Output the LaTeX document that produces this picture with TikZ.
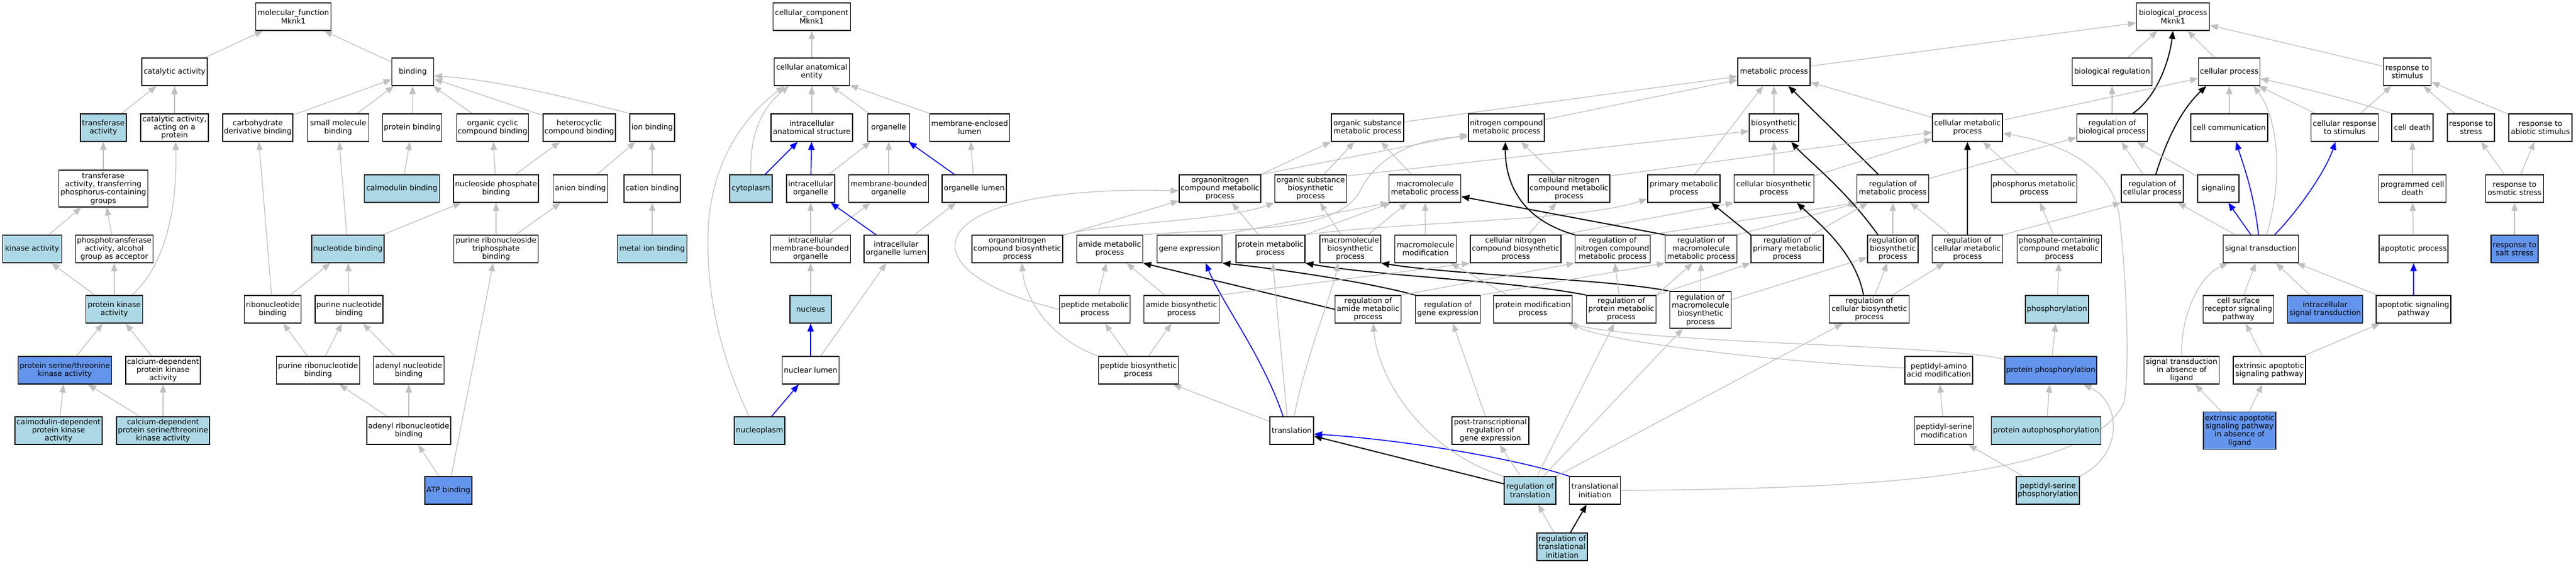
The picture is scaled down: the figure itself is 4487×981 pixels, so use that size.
\documentclass[tikz,border=0pt]{standalone}
\usepackage{fontspec}
\setmainfont{DejaVu Sans}
\usetikzlibrary{arrows.meta,backgrounds}
\definecolor{lb}{HTML}{ADD8E6}
\definecolor{cb}{HTML}{6495ED}
\definecolor{eg}{HTML}{C0C0C0}
\begin{document}
\begin{tikzpicture}[x=1pt,y=1pt,
  box/.style={draw=black,line width=1.4pt,fill=white,rectangle,inner xsep=2pt,inner ysep=1pt,minimum height=48pt,align=center,font=\fontsize{13pt}{14.3pt}\selectfont},
  tip/.style={-{Triangle[length=14pt,width=11pt]}},
  ge/.style={draw=eg,line width=1.3pt,tip},
  ke/.style={draw=black,line width=1.9pt,tip},
  be/.style={draw=blue,line width=1.6pt,tip}]
\useasboundingbox (0,0) rectangle (4487,-981);
% ---------------- molecular function ----------------
\node[box,minimum width=131pt] (mf) at (511,-29) {molecular\_function\\Mknk1};
\node[box,minimum width=114pt] (cat) at (304,-125) {catalytic activity};
\node[box,minimum width=73pt] (bind) at (719,-125) {binding};
\node[box,minimum width=80pt,fill=lb] (trans) at (180,-222) {transferase\\activity};
\node[box,minimum width=118pt] (caap) at (304,-222) {catalytic activity,\\acting on a\\protein};
\node[box,minimum width=122pt] (carb) at (449,-222) {carbohydrate\\derivative binding};
\node[box,minimum width=107pt] (smb) at (589,-222) {small molecule\\binding};
\node[box,minimum width=103pt] (protb) at (718,-222) {protein binding};
\node[box,minimum width=125pt] (occb) at (858,-222) {organic cyclic\\compound binding};
\node[box,minimum width=126pt] (hetb) at (1009,-222) {heterocyclic\\compound binding};
\node[box,minimum width=78pt] (ionb) at (1136,-222) {ion binding};
\node[box,minimum width=155pt,minimum height=64pt] (ttpg) at (180,-328) {transferase\\activity, transferring\\phosphorus-containing\\groups};
\node[box,minimum width=131pt,fill=lb] (calmb) at (700,-328) {calmodulin binding};
\node[box,minimum width=148pt] (nspb) at (864,-328) {nucleoside phosphate\\binding};
\node[box,minimum width=95pt] (anion) at (1011,-328) {anion binding};
\node[box,minimum width=98pt] (cation) at (1136,-328) {cation binding};
\node[box,minimum width=103pt,fill=lb] (kin) at (56,-433) {kinase activity};
\node[box,minimum width=135pt] (ptaa) at (199,-433) {phosphotransferase\\activity, alcohol\\group as acceptor};
\node[box,minimum width=126pt,fill=lb] (nucb) at (606,-433) {nucleotide binding};
\node[box,minimum width=147pt] (prtpb) at (864,-433) {purine ribonucleoside\\triphosphate\\binding};
\node[box,minimum width=121pt,fill=lb] (metal) at (1136,-433) {metal ion binding};
\node[box,minimum width=99pt,fill=lb] (pka) at (199,-538) {protein kinase\\activity};
\node[box,minimum width=99pt] (ribb) at (475,-538) {ribonucleotide\\binding};
\node[box,minimum width=118pt] (purnb) at (608,-538) {purine nucleotide\\binding};
\node[box,minimum width=163pt,fill=cb] (pstk) at (113,-644) {protein serine/threonine\\kinase activity};
\node[box,minimum width=130pt] (cdpk) at (284,-644) {calcium-dependent\\protein kinase\\activity};
\node[box,minimum width=145pt] (purrb) at (554,-644) {purine ribonucleotide\\binding};
\node[box,minimum width=123pt] (adnb) at (712,-644) {adenyl nucleotide\\binding};
\node[box,minimum width=152pt,fill=lb] (cmdpk) at (102,-749) {calmodulin-dependent\\protein kinase\\activity};
\node[box,minimum width=162pt,fill=lb] (cdpstk) at (284,-749) {calcium-dependent\\protein serine/threonine\\kinase activity};
\node[box,minimum width=146pt] (adrb) at (712,-749) {adenyl ribonucleotide\\binding};
\node[box,minimum width=82pt,fill=cb] (atp) at (781,-853) {ATP binding};
% ---------------- cellular component ----------------
\node[box,minimum width=135pt] (cc) at (1414,-29) {cellular\_component\\Mknk1};
\node[box,minimum width=131pt] (cae) at (1414,-125) {cellular anatomical\\entity};
\node[box,minimum width=142pt] (ias) at (1414,-222) {intracellular\\anatomical structure};
\node[box,minimum width=73pt] (org) at (1548,-222) {organelle};
\node[box,minimum width=139pt] (mel) at (1689,-222) {membrane-enclosed\\lumen};
\node[box,minimum width=74pt,fill=lb] (cyto) at (1308,-328) {cytoplasm};
\node[box,minimum width=84pt] (io) at (1412,-328) {intracellular\\organelle};
\node[box,minimum width=139pt] (mbo) at (1548,-328) {membrane-bounded\\organelle};
\node[box,minimum width=112pt] (ol) at (1697,-328) {organelle lumen};
\node[box,minimum width=139pt] (imbo) at (1412,-433) {intracellular\\membrane-bounded\\organelle};
\node[box,minimum width=112pt] (iol) at (1561,-433) {intracellular\\organelle lumen};
\node[box,minimum width=72pt,fill=lb] (nucl) at (1412,-538) {nucleus};
\node[box,minimum width=99pt] (nlum) at (1412,-644) {nuclear lumen};
\node[box,minimum width=88pt,fill=lb] (nplasm) at (1323,-749) {nucleoplasm};
% ---------------- biological process ----------------
\node[box,minimum width=127pt] (bp) at (3785,-29) {biological\_process\\Mknk1};
\node[box,minimum width=126pt] (mp) at (3090,-125) {metabolic process};
\node[box,minimum width=139pt] (breg) at (3679,-125) {biological regulation};
\node[box,minimum width=107pt] (cp) at (3883,-125) {cellular process};
\node[box,minimum width=83pt] (rts) at (4193,-125) {response to\\stimulus};
\node[box,minimum width=126pt] (osmp) at (2382,-222) {organic substance\\metabolic process};
\node[box,minimum width=132pt] (ncmp) at (2624,-222) {nitrogen compound\\metabolic process};
\node[box,minimum width=86pt] (biosp) at (3090,-222) {biosynthetic\\process};
\node[box,minimum width=122pt] (cmp) at (3427,-222) {cellular metabolic\\process};
\node[box,minimum width=123pt] (rbiolp) at (3679,-222) {regulation of\\biological process};
\node[box,minimum width=134pt] (ccom) at (3883,-222) {cell communication};
\node[box,minimum width=117pt] (crs) at (4084,-222) {cellular response\\to stimulus};
\node[box,minimum width=72pt] (cdeath) at (4202,-222) {cell death};
\node[box,minimum width=82pt] (rtstress) at (4304,-222) {response to\\stress};
\node[box,minimum width=110pt] (rtabio) at (4425,-222) {response to\\abiotic stimulus};
\node[box,minimum width=142pt] (oncmp) at (2125,-328) {organonitrogen\\compound metabolic\\process};
\node[box,minimum width=125pt] (osbp) at (2283,-328) {organic substance\\biosynthetic\\process};
\node[box,minimum width=125pt] (mmp) at (2482,-328) {macromolecule\\metabolic process};
\node[box,minimum width=142pt] (cncmp) at (2733,-328) {cellular nitrogen\\compound metabolic\\process};
\node[box,minimum width=126pt] (pmp) at (2933,-328) {primary metabolic\\process};
\node[box,minimum width=139pt] (cbp) at (3090,-328) {cellular biosynthetic\\process};
\node[box,minimum width=125pt] (rmp) at (3297,-328) {regulation of\\metabolic process};
\node[box,minimum width=149pt] (phmp) at (3543,-328) {phosphorus metabolic\\process};
\node[box,minimum width=108pt] (rcp) at (3749,-328) {regulation of\\cellular process};
\node[box,minimum width=72pt] (sig) at (3864,-328) {signaling};
\node[box,minimum width=117pt] (pcd) at (4202,-328) {programmed cell\\death};
\node[box,minimum width=101pt] (rtos) at (4380,-328) {response to\\osmotic stress};
\node[box,minimum width=158pt] (oncbp) at (1772,-433) {organonitrogen\\compound biosynthetic\\process};
\node[box,minimum width=115pt] (amp) at (1933,-433) {amide metabolic\\process};
\node[box,minimum width=113pt] (ge) at (2072,-433) {gene expression};
\node[box,minimum width=120pt] (protmp) at (2213,-433) {protein metabolic\\process};
\node[box,minimum width=106pt] (mbp) at (2352,-433) {macromolecule\\biosynthetic\\process};
\node[box,minimum width=107pt] (mm) at (2483,-433) {macromolecule\\modification};
\node[box,minimum width=158pt] (cncbp) at (2640,-433) {cellular nitrogen\\compound biosynthetic\\process};
\node[box,minimum width=130pt] (rncmp) at (2809,-433) {regulation of\\nitrogen compound\\metabolic process};
\node[box,minimum width=125pt] (rmmp) at (2963,-433) {regulation of\\macromolecule\\metabolic process};
\node[box,minimum width=126pt] (rpmp) at (3113,-433) {regulation of\\primary metabolic\\process};
\node[box,minimum width=88pt] (rbiosp) at (3297,-433) {regulation of\\biosynthetic\\process};
\node[box,minimum width=123pt] (rcmp) at (3427,-433) {regulation of\\cellular metabolic\\process};
\node[box,minimum width=147pt] (pccmp) at (3587,-433) {phosphate-containing\\compound metabolic\\process};
\node[box,minimum width=131pt] (st) at (3938,-433) {signal transduction};
\node[box,minimum width=120pt] (apop) at (4204,-433) {apoptotic process};
\node[box,minimum width=82pt,fill=cb] (rtsalt) at (4380,-433) {response to\\salt stress};
\node[box,minimum width=123pt] (pepmp) at (1907,-538) {peptide metabolic\\process};
\node[box,minimum width=131pt] (abp) at (2058,-538) {amide biosynthetic\\process};
\node[box,minimum width=115pt] (ramp) at (2383,-538) {regulation of\\amide metabolic\\process};
\node[box,minimum width=113pt] (rge) at (2522,-538) {regulation of\\gene expression};
\node[box,minimum width=137pt] (pmod) at (2670,-538) {protein modification\\process};
\node[box,minimum width=121pt] (rprotmp) at (2824,-538) {regulation of\\protein metabolic\\process};
\node[box,minimum width=107pt,minimum height=64pt] (rmbp) at (2962,-539) {regulation of\\macromolecule\\biosynthetic\\process};
\node[box,minimum width=139pt] (rcbp) at (3256,-538) {regulation of\\cellular biosynthetic\\process};
\node[box,minimum width=110pt,fill=lb] (phos) at (3583,-538) {phosphorylation};
\node[box,minimum width=123pt] (csrsp) at (3899,-538) {cell surface\\receptor signaling\\pathway};
\node[box,minimum width=131pt,fill=cb] (ist) at (4050,-538) {intracellular\\signal transduction};
\node[box,minimum width=130pt] (asp) at (4204,-538) {apoptotic signaling\\pathway};
\node[box,minimum width=139pt] (pepbp) at (1983,-644) {peptide biosynthetic\\process};
\node[box,minimum width=118pt] (paam) at (3377,-644) {peptidyl-amino\\acid modification};
\node[box,minimum width=160pt,fill=cb] (pphos) at (3572,-644) {protein phosphorylation};
\node[box,minimum width=131pt] (stia) at (3800,-644) {signal transduction\\in absence of\\ligand};
\node[box,minimum width=126pt] (easp) at (3953,-644) {extrinsic apoptotic\\signaling pathway};
\node[box,minimum width=76pt] (transl) at (2250,-749) {translation};
\node[box,minimum width=134pt] (ptrge) at (2596,-749) {post-transcriptional\\regulation of\\gene expression};
\node[box,minimum width=103pt] (psm) at (3386,-749) {peptidyl-serine\\modification};
\node[box,minimum width=191pt,fill=lb] (papho) at (3564,-749) {protein autophosphorylation};
\node[box,minimum width=126pt,minimum height=65pt,fill=cb] (easpl) at (3901,-749) {extrinsic apoptotic\\signaling pathway\\in absence of\\ligand};
\node[box,minimum width=90pt,fill=lb] (rt) at (2665,-853) {regulation of\\translation};
\node[box,minimum width=89pt] (ti) at (2778,-853) {translational\\initiation};
\node[box,minimum width=110pt,fill=lb] (psp) at (3567,-853) {peptidyl-serine\\phosphorylation};
\node[box,minimum width=88pt,fill=lb] (rti) at (2721,-951) {regulation of\\translational\\initiation};

\begin{pgfonlayer}{background}
\fill[white] (0,0) rectangle (4487,-981);
% MF edges
\draw[ge] (cat) -- (mf);
\draw[ge] (bind) -- (mf);
\draw[ge] (trans) -- (cat);
\draw[ge] (caap) -- (cat);
\draw[ge] (carb) -- (bind);
\draw[ge] (smb) -- (bind);
\draw[ge] (protb) -- (bind);
\draw[ge] (occb) -- (bind);
\draw[ge] (hetb) -- (bind);
\draw[ge] (ionb.north west) .. controls (1020,-178) and (880,-140) .. ([yshift=-7pt]bind.east);
\draw[ge] (ttpg) -- (trans);
\draw[ge] (calmb) -- (protb);
\draw[ge] (nspb) -- (occb);
\draw[ge] (nspb) -- (hetb);
\draw[ge] (anion) -- (ionb);
\draw[ge] (cation) -- (ionb);
\draw[ge] (kin) -- (ttpg);
\draw[ge] (ptaa) -- (ttpg);
\draw[ge] (nucb) -- (smb);
\draw[ge] (nucb) -- (nspb);
\draw[ge] (prtpb) -- (nspb);
\draw[ge] (prtpb) -- (anion);
\draw[ge] (metal) -- (cation);
\draw[ge] (pka) -- (kin);
\draw[ge] (pka) -- (ptaa);
\draw[ge] ([xshift=31pt]pka.north) .. controls (300,-450) and (308,-330) .. ([xshift=2pt]caap.south);
\draw[ge] (ribb) -- (carb);
\draw[ge] (ribb) -- (nucb);
\draw[ge] (purnb) -- (nucb);
\draw[ge] (pstk) -- (pka);
\draw[ge] (cdpk) -- (pka);
\draw[ge] (purrb) -- (ribb);
\draw[ge] (purrb) -- (purnb);
\draw[ge] (adnb) -- (purnb);
\draw[ge] (cmdpk) -- (pstk);
\draw[ge] (cdpstk) -- (pstk);
\draw[ge] (cdpstk) -- (cdpk);
\draw[ge] (adrb) -- (purrb);
\draw[ge] (adrb) -- (adnb);
\draw[ge] (atp) -- (adrb);
\draw[ge] (atp) -- (prtpb);
% CC edges
\draw[ge] (cae) -- (cc);
\draw[ge] (ias) -- (cae);
\draw[ge] (cyto.north) .. controls (1305,-230) and (1330,-185) .. ([xshift=-40pt]cae.south);
\draw[ge] ([xshift=-18pt]nplasm.north) .. controls (1255,-620) and (1233,-520) .. (1233,-420) .. controls (1233,-280) and (1300,-200) .. ([xshift=-48pt]cae.south);
\draw[ge] (org) -- (cae);
\draw[ge] (mel) -- (cae);
\draw[be] (cyto) -- (ias);
\draw[be] (io) -- (ias);
\draw[ge] (io) -- (org);
\draw[ge] (mbo) -- (org);
\draw[be] (ol) -- (org);
\draw[ge] (ol) -- (mel);
\draw[ge] (imbo) -- (io);
\draw[ge] (imbo) -- (mbo);
\draw[be] (iol) -- (io);
\draw[ge] (iol) -- (ol);
\draw[ge] (nucl) -- (imbo);
\draw[be] (nlum) -- (nucl);
\draw[ge] (nlum) -- (iol);
\draw[be] (nplasm) -- (nlum);
% BP upper
\draw[ge] ([yshift=10pt]mp.east) -- ([yshift=-11pt]bp.west);
\draw[ge] (breg) -- (bp);
\draw[ge] (cp) -- (bp);
\draw[ge] (rts) -- (bp);
\draw[ke] ([xshift=36pt]rbiolp.north) .. controls (3755,-170) and (3778,-110) .. (bp.south);
\draw[ge] ([yshift=10pt]osmp.east) -- ([yshift=-8pt]mp.west);
\draw[ge] ([yshift=14pt]ncmp.east) -- ([yshift=-14pt]mp.west);
\draw[ge] (biosp) -- (mp);
\draw[ge] (cmp) -- (mp);
\draw[ke] (rmp) -- (mp);
\draw[ge] (pmp) -- (mp);
\draw[ge] (cmp) -- (cp);
\draw[ge] (rbiolp) -- (breg);
\draw[ge] (ccom) -- (cp);
\draw[ge] (crs) -- (cp);
\draw[ge] (crs) -- (rts);
\draw[ge] (cdeath.north west) .. controls (4100,-175) and (4000,-150) .. ([yshift=-12pt]cp.east);
\draw[ge] (rtstress) -- (rts);
\draw[ge] (rtabio) -- (rts);
\draw[ke] ([xshift=6pt]rcp.north) .. controls (3775,-240) and (3800,-190) .. ([xshift=-40pt]cp.south);
\draw[ge] (rcp) -- (rbiolp);
\draw[ge] (sig) -- (rbiolp);
\draw[be] (st) -- (sig);
\draw[be] ([xshift=-4pt]st.north) .. controls (3925,-330) and (3905,-280) .. ([xshift=12pt]ccom.south);
\draw[be] ([xshift=24pt]st.north) .. controls (4000,-370) and (4050,-300) .. ([xshift=-16pt]crs.south);
\draw[ge] ([xshift=10pt]st.north) .. controls (3980,-300) and (3965,-200) .. ([xshift=42pt]cp.south);
\draw[ge] (st) -- (rcp);
\draw[ge] (pcd) -- (cdeath);
\draw[ge] (rtos) -- (rtstress);
\draw[ge] (rtos) -- (rtabio);
\draw[ge] (apop) -- (pcd);
\draw[ge] (rtsalt) -- (rtos);
\draw[be] (asp) -- (apop);
\draw[ge] (asp) -- (st);
\draw[ge] (ist) -- (st);
\draw[ge] (csrsp) -- (st);
\draw[ge] (stia.north) .. controls (3798,-550) and (3830,-480) .. ([xshift=-57pt]st.south);
\draw[ge] (easp) -- (csrsp);
\draw[ge] (easp) -- (asp);
\draw[ge] (easpl) -- (stia);
\draw[ge] (easpl) -- (easp);
% BP metabolic
\draw[ge] (oncmp.north east) -- (osmp.south west);
\draw[ge] (oncmp.north east) -- ([yshift=-12pt]ncmp.west);
\draw[ge] (osbp) -- (osmp);
\draw[ge] (mmp) -- (osmp);
\draw[ge] ([yshift=22pt]osbp.east) -- ([yshift=-6pt]biosp.west);
\draw[ge] (cncmp) -- (ncmp);
\draw[ge] ([yshift=22pt]cncmp.east) -- ([yshift=-8pt]cmp.west);
\draw[ge] (cbp) -- (biosp);
\draw[ge] (cbp) -- (cmp);
\draw[ge] (phmp) -- (cmp);
\draw[ge] (rmp) -- (rbiolp);
\draw[ge] (oncbp) -- (oncmp);
\draw[ge] (oncbp.north east) .. controls (1950,-385) and (2130,-385) .. (osbp.south west);
\draw[ge] (pepmp.west) .. controls (1560,-470) and (1600,-320) .. ([yshift=-4pt]oncmp.west);
\draw[ge] (amp.north east) .. controls (2150,-395) and (2330,-410) .. (2370,-330) .. controls (2400,-270) and (2470,-240) .. ([yshift=-16pt]ncmp.west);
\draw[ge] (ge.north east) -- (mmp.south west);
\draw[ge] (protmp) -- (oncmp);
\draw[ge] (protmp.north east) -- ([xshift=4pt]mmp.south west);
\draw[ge] (protmp.north east) .. controls (2450,-385) and (2750,-385) .. ([yshift=-18pt]pmp.west);
\draw[ge] (mbp) -- (osbp);
\draw[ge] (mbp) -- (mmp);
\draw[ge] (mm) -- (mmp);
\draw[ge] (cncbp) -- (cncmp);
\draw[ge] (cncbp.north east) -- (cbp.south west);
\draw[ke] (rncmp.north west) .. controls (2660,-385) and (2622,-330) .. ([xshift=-2pt]ncmp.south);
\draw[ge] (rncmp.north east) -- (rmp.south west);
\draw[ke] (rmmp.north west) -- ([yshift=-14pt]mmp.east);
\draw[ge] (rmmp.north east) -- ([xshift=4pt]rmp.south west);
\draw[ke] (ramp.west) -- (amp.south east);
\draw[ke] (rge.north west) .. controls (2400,-495) and (2250,-470) .. (ge.south east);
\draw[ke] (rprotmp.north west) .. controls (2650,-490) and (2400,-480) .. (protmp.south east);
\draw[ke] (rmbp.north west) .. controls (2800,-485) and (2550,-480) .. (mbp.south east);
\draw[ge] (ramp.north east) -- (rncmp.south west);
\draw[ge] (rge.north east) -- (rmmp.south west);
\draw[ge] (pmod) -- (mm);
\draw[ge] (rprotmp) -- (rncmp);
\draw[ge] (rprotmp.north east) -- ([xshift=-15pt]rmmp.south);
\draw[ge] (rprotmp.north east) -- (rpmp.south west);
\draw[ge] (rmbp) -- (rmmp);
\draw[ge] ([yshift=18pt]rmbp.east) -- ([yshift=-15pt]rbiosp.west);
\draw[ge] (abp) -- (amp);
\draw[ge] (abp.north east) -- (cncbp.south west);
\draw[ge] (pepmp) -- (amp);
\draw[ge] (pepbp) -- (pepmp);
\draw[ge] (pepbp) -- (abp);
\draw[ge] (pepbp.north west) .. controls (1830,-590) and (1785,-520) .. ([xshift=8pt]oncbp.south);
\draw[ge] ([yshift=16pt]transl.west) -- ([xshift=-10pt]pepbp.south east);
\draw[ge] ([xshift=-8pt]transl.north) -- ([xshift=4pt]protmp.south);
\draw[ge] ([xshift=4pt]transl.north) .. controls (2275,-620) and (2320,-510) .. ([xshift=-21pt]mbp.south);
\draw[be] ([xshift=-15pt]transl.north) .. controls (2200,-620) and (2130,-530) .. ([xshift=28pt]ge.south);
\draw[ke] (rt) -- (transl);
\draw[be] (ti.north west) .. controls (2650,-800) and (2450,-765) .. ([yshift=-6pt]transl.east);
\draw[ge] (rt.north west) .. controls (2480,-785) and (2400,-660) .. ([xshift=9pt]ramp.south);
\draw[ge] (rt) -- (ptrge);
\draw[ge] (rt) -- (rprotmp);
\draw[ge] (rt) -- (rmbp);
\draw[ge] (rt) -- (rcbp);
\draw[ge] (ptrge) -- (rge);
\draw[ge] (rti) -- (rt);
\draw[ke] (rti) -- (ti);
\draw[ge] (ti.east) .. controls (3300,-850) and (3640,-825) .. (3700,-700) .. controls (3712,-620) and (3700,-450) .. (3692,-380) .. controls (3680,-280) and (3570,-245) .. ([yshift=-10pt]cmp.east);
\draw[ke] ([xshift=-26pt]rbiosp.north) .. controls (3215,-330) and (3150,-280) .. ([xshift=30pt]biosp.south);
\draw[ge] (rbiosp) -- (rmp);
\draw[ke] (rcmp) -- (cmp);
\draw[ge] (rcmp) -- (rmp);
\draw[ge] (rcmp.north east) -- (rcp.south west);
\draw[ke] (rpmp.north west) -- ([xshift=-16pt]pmp.south east);
\draw[ge] (rpmp) -- (rmp);
\draw[ge] (pccmp) -- (phmp);
\draw[ke] ([xshift=-10pt]rcbp.north) .. controls (3232,-440) and (3170,-390) .. ([xshift=40pt]cbp.south);
\draw[ge] (rcbp) -- (rbiosp);
\draw[ge] (rcbp) -- (rcmp);
\draw[ge] (phos) -- (pccmp);
\draw[ge] (pphos) -- (phos);
\draw[ge] ([yshift=19pt]pphos.west) .. controls (3380,-598) and (2900,-600) .. ([xshift=-8pt]pmod.south east);
\draw[ge] ([yshift=4pt]paam.west) .. controls (3100,-630) and (2800,-595) .. ([xshift=-4pt]pmod.south east);
\draw[ge] (papho) -- (pphos);
\draw[ge] (psp.north east) .. controls (3700,-790) and (3695,-700) .. ([xshift=57pt]pphos.south);
\draw[ge] (psp) -- (psm);
\draw[ge] (psm) -- (paam);
\end{pgfonlayer}
\end{tikzpicture}
\end{document}
